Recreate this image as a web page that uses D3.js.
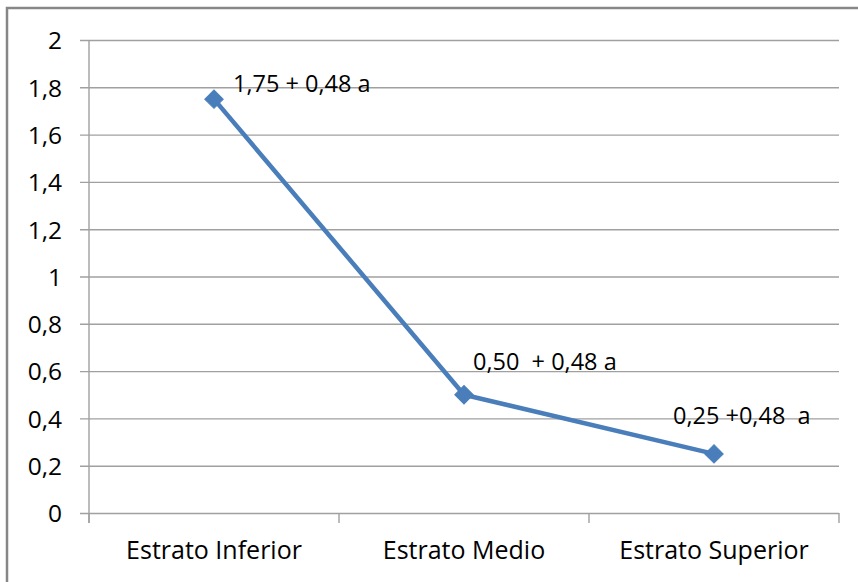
<!DOCTYPE html>
<html>
<head>
<meta charset="utf-8">
<script src="https://cdn.jsdelivr.net/npm/d3@7"></script>
<style>
  html, body { margin: 0; padding: 0; background: #fff; }
  svg { display: block; }
  text { font-family: "Open Sans", "Noto Sans", sans-serif; fill: #000; white-space: pre; }
</style>
</head>
<body>
<svg id="chart" width="858" height="582"></svg>
<script>
// Chart data
const categories = ["Estrato Inferior", "Estrato Medio", "Estrato Superior"];
const values = [1.75, 0.50, 0.25];
const pointLabels = ["1,75 + 0,48 a", "0,50  + 0,48 a", "0,25 +0,48  a"];
const yTicks = [0, 0.2, 0.4, 0.6, 0.8, 1, 1.2, 1.4, 1.6, 1.8, 2];

// Label placement relative to each point (dx, dy)
const labelOffsets = [[19, -7], [9, -25], [-41, -30]];

const svg = d3.select("#chart");
const W = 858, H = 582;
const margin = { left: 89, right: 19, top: 40, bottom: 69 };
const font = "'Open Sans', 'Noto Sans', sans-serif";

// outer frame
svg.append("rect")
  .attr("x", 7).attr("y", 8)
  .attr("width", W + 10).attr("height", H + 10)
  .attr("fill", "#fff")
  .attr("stroke", "#878787")
  .attr("stroke-width", 2.5);

const x = d3.scaleBand()
  .domain(categories)
  .range([margin.left, W - margin.right])
  .paddingInner(0).paddingOuter(0);

const y = d3.scaleLinear()
  .domain([0, 2])
  .range([H - margin.bottom, margin.top]);

const fmt = d => String(d).replace(".", ",");

// horizontal gridlines + left ticks
const yAxis = d3.axisLeft(y)
  .tickValues(yTicks)
  .tickFormat(fmt)
  .tickSize(-(W - margin.right - margin.left))
  .tickPadding(0);

const gy = svg.append("g")
  .attr("transform", `translate(${margin.left},0)`)
  .call(yAxis);
gy.attr("font-family", null).attr("font-size", null);
gy.select(".domain").remove();
gy.selectAll(".tick line")
  .attr("x1", -9)
  .attr("stroke", "#a0a0a0")
  .attr("stroke-width", 1.4);
gy.selectAll(".tick text")
  .attr("x", -27)
  .attr("dy", "0.36em")
  .style("font-size", "24.5px")
  .style("font-family", font)
  .attr("fill", "#000");

// vertical axis line
svg.append("line")
  .attr("x1", margin.left).attr("x2", margin.left)
  .attr("y1", margin.top).attr("y2", y(0) + 10)
  .attr("stroke", "#a0a0a0").attr("stroke-width", 1.4);

// category axis
const xAxis = d3.axisBottom(x).tickSize(0).tickPadding(0);
const gx = svg.append("g")
  .attr("transform", `translate(0,${y(0)})`)
  .call(xAxis);
gx.attr("font-family", null).attr("font-size", null);
gx.select(".domain").remove();
gx.selectAll(".tick line").remove();
gx.selectAll(".tick text")
  .attr("y", 46)
  .attr("dy", 0)
  .style("font-size", "25px")
  .style("font-family", font)
  .attr("fill", "#000");

// category boundary ticks
const bounds = categories.map(c => x(c)).concat([x(categories[categories.length - 1]) + x.bandwidth()]);
svg.append("g").selectAll("line")
  .data(bounds)
  .join("line")
  .attr("x1", d => d).attr("x2", d => d)
  .attr("y1", y(0)).attr("y2", y(0) + 10)
  .attr("stroke", "#a0a0a0").attr("stroke-width", 1.4);

// series line
const cx = (d, i) => x(categories[i]) + x.bandwidth() / 2;
const line = d3.line().x((d, i) => cx(d, i)).y(d => y(d));
svg.append("path")
  .datum(values)
  .attr("d", line)
  .attr("fill", "none")
  .attr("stroke", "#4a7ebb")
  .attr("stroke-width", 4.5)
  .attr("stroke-linejoin", "round");

// diamond markers
svg.append("g").selectAll("path")
  .data(values)
  .join("path")
  .attr("d", d3.symbol().type(d3.symbolSquare).size(170))
  .attr("transform", (d, i) => `translate(${cx(d, i)},${y(d)}) rotate(45)`)
  .attr("fill", "#4a7ebb")
  .attr("stroke", "#4a7ebb")
  .attr("stroke-width", 1);

// data labels
svg.append("g").selectAll("text")
  .data(values)
  .join("text")
  .attr("x", (d, i) => cx(d, i) + labelOffsets[i][0])
  .attr("y", (d, i) => y(d) + labelOffsets[i][1])
  .style("font-size", "23.5px")
  .style("font-family", font)
  .text((d, i) => pointLabels[i]);
</script>
</body>
</html>
